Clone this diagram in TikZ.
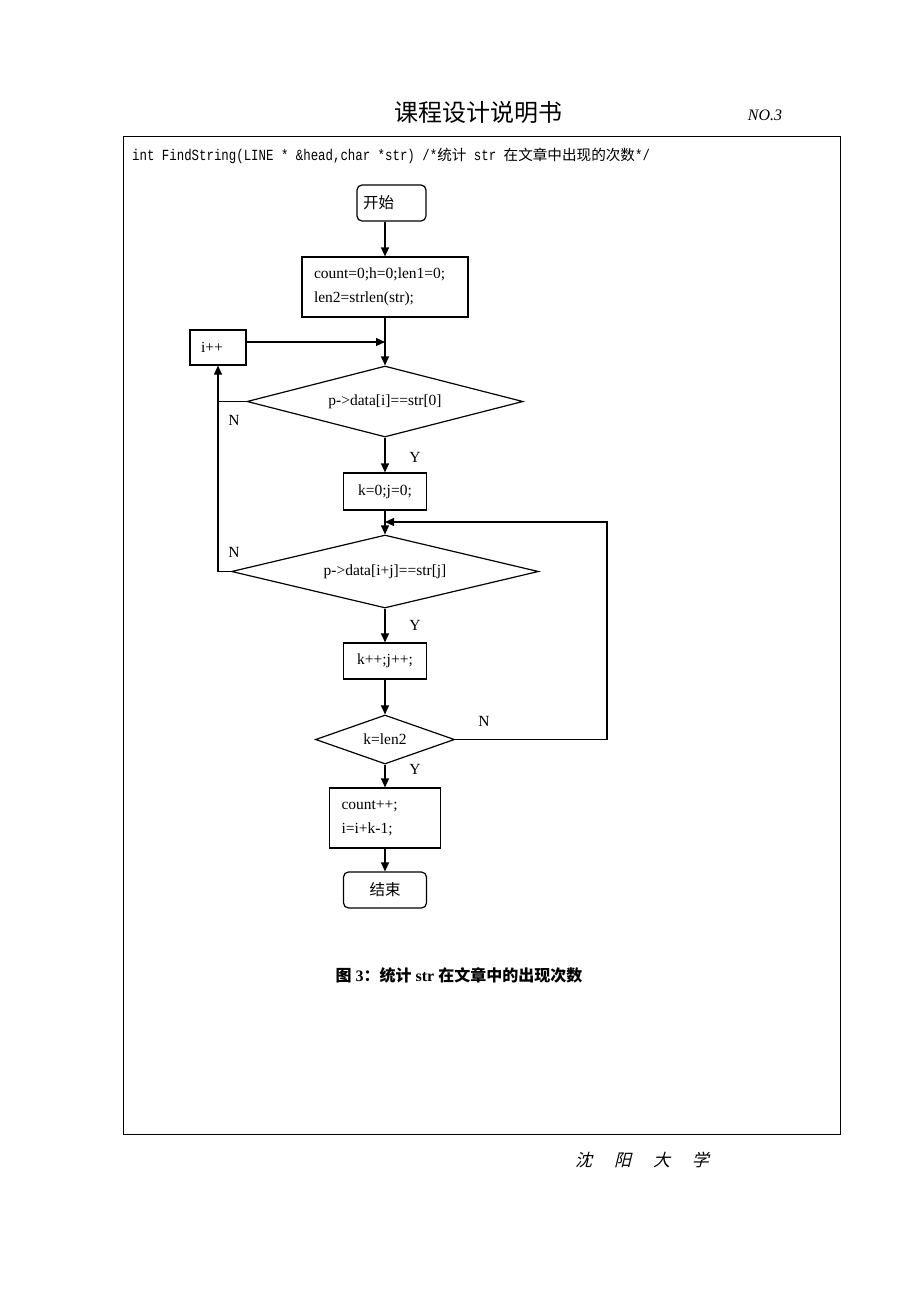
\documentclass[tikz,border=0pt]{standalone}
\usepackage{fontspec}
\setmainfont{Liberation Serif}
\newfontfamily\cjk{Noto Sans CJK SC}
\newfontfamily\cjkit[FakeSlant=0.25]{Noto Sans CJK SC}
\newfontfamily\monof[FakeStretch=0.8]{Liberation Mono}
\usetikzlibrary{arrows.meta,shapes.geometric}
\tikzset{
  fc/.style={line width=1.2pt},
  box/.style={draw, rectangle, inner sep=0pt, line width=1.2pt, font=\fontsize{15.5}{24}\selectfont},
  term/.style={box, rounded corners=5pt},
  dia/.style={draw, diamond, inner sep=0pt, line width=1.2pt, font=\fontsize{15.5}{19}\selectfont},
  arr/.style={line width=1.2pt, -{Triangle[length=9pt,width=8pt]}},
  lbl/.style={font=\fontsize{15.5}{19}\selectfont, inner sep=0pt}
}
\begin{document}
\begin{tikzpicture}[x=1pt,y=-1pt]
\useasboundingbox (0,0) rectangle (920,1302);
% page frame
\draw[line width=1pt] (123,136) rectangle (840,1134);
\node[inner sep=0pt] (title) at (478,112) {\cjk\fontsize{24}{28}\selectfont 课程设计说明书};
\node[inner sep=0pt] (no) at (765,115) {\fontsize{16}{19}\selectfont\itshape NO.3};
\node[anchor=west, inner sep=0pt] (code) at (132,156) {\monof\fontsize{15.5}{18}\selectfont int FindString(LINE * \&head,char *str) /*{\cjk\fontsize{14.6}{16}\selectfont 统计}\ str {\cjk\fontsize{14.6}{16}\selectfont 在文章中出现的次数}*/};
\node[inner sep=0pt] (foot) at (642,1160) {\cjkit\fontsize{17}{20}\selectfont 沈\hspace{22pt}阳\hspace{22pt}大\hspace{22pt}学};
% flowchart nodes
\node[term, minimum width=69pt, minimum height=36pt, text width=57pt, inner xsep=6pt, align=left] (start) at (391.5,203) {\cjk 开始};
\node[box, minimum width=166pt, minimum height=60pt, text width=142pt, inner xsep=12pt, align=left] (init) at (385,287) {count=0;h=0;len1=0;\\len2=strlen(str);};
\node[box, minimum width=56pt, minimum height=35pt, text width=34pt, inner xsep=11pt, align=left] (ipp) at (218,347.5) {i++};
\coordinate (j1) at (385,342);
\node[dia, shape aspect=3.9, minimum width=276pt, minimum height=71pt] (d1) at (385,401.5) {p->data[i]==str[0]};
\node[box, minimum width=83pt, minimum height=37pt] (kj) at (385,491.5) {k=0;j=0;};
\node[dia, shape aspect=4.2, minimum width=307pt, minimum height=73pt] (d2) at (385,571.5) {p->data[i+j]==str[j]};
\node[box, minimum width=83pt, minimum height=36pt] (inc) at (385,661) {k++;j++;};
\node[dia, shape aspect=2.8, minimum width=139pt, minimum height=49pt] (d3) at (385,739.5) {k=len2};
\node[box, minimum width=111pt, minimum height=60pt, text width=87pt, inner xsep=12pt, align=left] (cnt) at (385,818) {count++;\\i=i+k-1;};
\node[term, minimum width=83pt, minimum height=36pt] (end) at (385,890) {\cjk 结束};
\coordinate (lp) at (607,522);
% labels
\node[lbl] (n1) at (234,420) {N};
\node[lbl] (n2) at (234,552) {N};
\node[lbl] (n3) at (484,721) {N};
\node[lbl] (y1) at (415,457) {Y};
\node[lbl] (y2) at (415,625) {Y};
\node[lbl] (y3) at (415,769) {Y};
% connectors
\draw[arr] (start.south -| init.north) -- (init);
\draw[arr] (init) -- (d1);
\draw[arr] (ipp.east |- j1) -- (j1);
\draw[arr] (d1.west) -| (ipp.south);
\draw[fc] (d2.west) -- (d2.west -| ipp.south) -- (d1.west -| ipp.south);
\draw[arr] (d1) -- (kj);
\draw[arr] (kj) -- (d2);
\draw[arr] (d2) -- (inc);
\draw[arr] (inc) -- (d3);
\draw[arr] (d3.east) -| (lp) -- (lp -| d2.north);
\draw[arr] (d3) -- (cnt);
\draw[arr] (cnt) -- (end);
% caption
\node[inner sep=0pt] (cap) at (459,975) {\fontsize{16}{19}\selectfont\bfseries{\cjk 图} 3{\cjk ：统计} str {\cjk 在文章中的出现次数}};
\end{tikzpicture}
\end{document}
